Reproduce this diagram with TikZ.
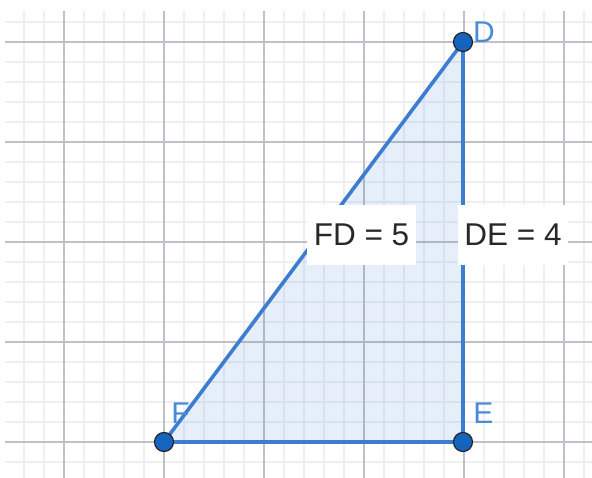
\documentclass[tikz,border=0pt]{standalone}
\usepackage{fontspec}
\setmainfont{Liberation Sans}
\definecolor{minorgrid}{RGB}{239,239,243}
\definecolor{majorgrid}{RGB}{192,192,200}
\definecolor{segblue}{RGB}{60,125,210}
\definecolor{ptblue}{RGB}{21,101,192}
\definecolor{lblblue}{RGB}{74,138,214}
\definecolor{txtdark}{RGB}{40,40,40}
\tikzset{
  minorline/.style={draw=minorgrid, line width=1.4pt},
  majorline/.style={draw=majorgrid, line width=1.5pt},
  seg/.style={draw=segblue, line width=3.6pt},
  pt/.style={circle, fill=ptblue, draw=black!85, line width=1.2pt, minimum size=19pt, inner sep=0pt},
  ptlabel/.style={anchor=base, text=lblblue, font=\fontsize{30}{36}\selectfont, inner sep=0pt},
  valbox/.style={fill=white, text=txtdark, font=\fontsize{31.5}{38}\selectfont, minimum height=60pt, inner sep=0pt}
}
\begin{document}
\begin{tikzpicture}[x=1pt,y=-1pt]
\useasboundingbox (0,0) rectangle (592,478);
% grid
\foreach \x in {24,44,...,584} \draw[minorline] (\x,11) -- (\x,478);
\foreach \y in {22,42,...,462} \draw[minorline] (5,\y) -- (592,\y);
\foreach \x in {64,164,...,564} \draw[majorline] (\x,11) -- (\x,478);
\foreach \y in {42,142,...,442} \draw[majorline] (5,\y) -- (592,\y);
% vertices
\coordinate (F) at (164,442);
\coordinate (E) at (463,442);
\coordinate (D) at (463,42);
% triangle
\fill[segblue, fill opacity=0.13] (F) -- (E) -- (D) -- cycle;
\draw[seg, line cap=round] (F) -- (E);
\draw[seg, line cap=round] (E) -- (D);
\draw[seg, line cap=round] (D) -- (F);
% value labels
\node[valbox, minimum width=109pt] (fd) at (361.5,235) {FD = 5};
\node[valbox, minimum width=110pt] (de) at (513,235) {DE = 4};
% points
\node[pt] (pF) at (F) {};
\node[pt] (pE) at (E) {};
\node[pt] (pD) at (D) {};
% point labels
\node[ptlabel] (lD) at (484,43) {D};
\node[ptlabel] (lE) at (483.5,423) {E};
\node[ptlabel] (lF) at (180.5,423) {F};
\end{tikzpicture}
\end{document}
